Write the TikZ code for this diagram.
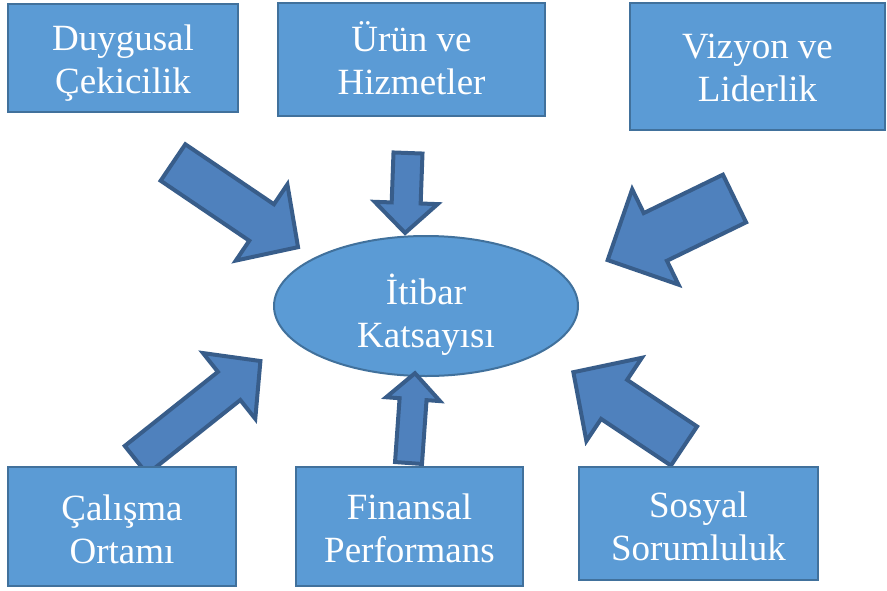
\documentclass[tikz,border=0pt]{standalone}
\usepackage{fontspec}
\setmainfont{Liberation Serif}
\usetikzlibrary{shapes.geometric}

\definecolor{boxfill}{HTML}{5B9BD5}
\definecolor{boxline}{HTML}{41719C}
\definecolor{arrfill}{HTML}{4F81BD}
\definecolor{arrline}{HTML}{385D8A}

% Block arrow: tail centre x, y; direction angle; length; shaft width; head width; head length
\newcommand\blockarrow[7]{%
  \draw[arrowshape, shift={(#1,#2)}, rotate=#3]
    (0,-#5/2) -- (#4-#7,-#5/2) -- (#4-#7,-#6/2) -- (#4,0)
    -- (#4-#7,#6/2) -- (#4-#7,#5/2) -- (0,#5/2) -- cycle;}

\tikzset{
  factor/.style={draw=boxline, fill=boxfill, line width=2pt, inner sep=0pt},
  core/.style={ellipse, draw=boxline, fill=boxfill, line width=2pt, inner sep=0pt},
  caption/.style={text=white, align=center, inner sep=0pt,
    font=\fontsize{37}{43}\selectfont},
  arrowshape/.style={draw=arrline, fill=arrfill, line width=4pt, line join=miter},
}

\begin{document}
\begin{tikzpicture}[x=1pt, y=-1pt]
  \useasboundingbox (0,0) rectangle (887,590);

  % central ellipse
  \node[core, minimum width=304pt, minimum height=140pt] (center) at (426,306) {};
  \node[caption] (centertext) at ([yshift=-9pt]center.center) {İtibar\\Katsayısı};

  % arrows pointing to the centre
  \blockarrow{173}{162.5}{-34.1}{151}{44}{92}{44}
  \blockarrow{408}{153}{-92.1}{80}{29}{63}{30}
  \blockarrow{734.5}{198.5}{-154.1}{141}{53}{106}{53}
  \blockarrow{136}{460}{38.5}{159}{36}{84}{40}
  \blockarrow{408.5}{463}{85.9}{90}{27}{54}{26}
  \blockarrow{684}{446}{146.3}{133}{47}{100}{49}

  % surrounding factors
  \node[factor, minimum width=230pt, minimum height=108pt] (emo) at (123,58) {};
  \node[caption] (emotext) at ([yshift=-5pt]emo.center) {Duygusal\\Çekicilik};
  \node[factor, minimum width=267pt, minimum height=113pt] (prod) at (411.5,59.5) {};
  \node[caption] (prodtext) at ([yshift=1pt]prod.center) {Ürün ve\\Hizmetler};
  \node[factor, minimum width=255pt, minimum height=127pt] (vis) at (757.5,66.5) {};
  \node[caption] (vistext) at ([yshift=-1pt]vis.center) {Vizyon ve\\Liderlik};
  \node[factor, minimum width=228pt, minimum height=119pt] (work) at (122,526.5) {};
  \node[caption] (worktext) at ([yshift=-3pt]work.center) {Çalışma\\Ortamı};
  \node[factor, minimum width=227pt, minimum height=119pt] (fin) at (409.5,526.5) {};
  \node[caption] (fintext) at ([yshift=-2pt]fin.center) {Finansal\\Performans};
  \node[factor, minimum width=239pt, minimum height=113pt] (soc) at (698.5,523.5) {};
  \node[caption] (soctext) at ([yshift=-3pt]soc.center) {Sosyal\\Sorumluluk};
\end{tikzpicture}
\end{document}
